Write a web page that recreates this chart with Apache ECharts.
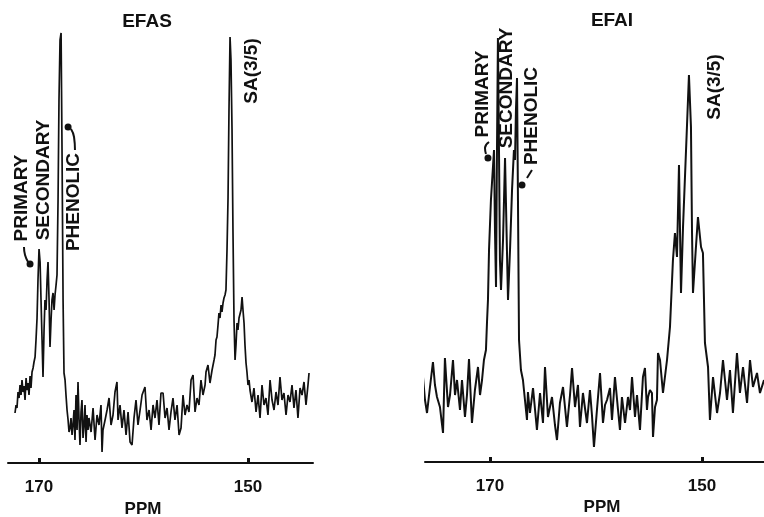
<!DOCTYPE html>
<html>
<head>
<meta charset="utf-8">
<script src="https://cdn.jsdelivr.net/npm/echarts@6/dist/echarts.min.js"></script>
<style>
html,body{margin:0;padding:0;background:#fff;}
#chart{width:764px;height:517px;}
</style>
</head>
<body>
<div id="chart"></div>
<script>
// ---- EFAS spectrum (chemical shift in ppm, intensity in arbitrary units) ----
const efasShift = [
172.30,172.20,172.11,172.01,171.91,171.82,171.72,171.63,171.53,171.44,171.34,171.24,171.15,171.05,170.96,170.86,170.77,170.67,170.57,170.48,
170.38,170.29,170.19,170.10,170.00,169.90,169.81,169.71,169.62,169.52,169.43,169.33,169.23,169.14,169.04,168.95,168.85,168.76,168.66,168.56,
168.47,168.37,168.28,168.18,168.09,167.99,167.89,167.80,167.70,167.61,167.51,167.42,167.32,167.22,167.13,167.03,
166.94,166.84,166.75,166.65,166.56,166.46,166.36,166.27,166.17,166.08,165.98,165.89,165.79,165.69,165.60,165.50,165.41,165.31,165.22,
165.02,164.83,164.64,164.45,164.26,164.07,163.97,163.88,163.68,163.49,163.30,163.11,162.92,162.73,162.54,162.44,162.25,162.06,161.87,161.67,
161.48,161.29,161.10,160.91,160.72,160.53,160.33,160.14,159.86,159.67,159.47,159.28,159.09,158.90,158.71,158.52,158.33,158.13,157.94,157.75,
157.56,157.37,157.18,156.99,156.79,156.60,156.41,156.22,156.03,155.84,155.65,155.45,155.26,155.07,154.88,154.69,154.50,154.31,154.11,154.02,
153.83,153.64,153.44,153.25,153.16,153.06,152.97,152.87,152.78,152.68,152.58,152.49,152.39,152.30,152.20,152.11,152.01,151.91,151.82,151.72,
151.63,151.53,151.44,151.34,151.24,151.15,151.05,150.96,150.86,150.77,150.67,150.57,150.48,150.38,150.29,150.19,150.10,150.00,149.90,149.81,
149.62,149.43,149.23,149.04,148.85,148.66,148.47,148.28,148.09,147.89,147.70,147.51,147.32,147.13,146.94,146.75,146.56,146.36,146.17,145.98,
145.79,145.60,145.41,145.22,145.02,144.83,144.64,144.45,144.26,144.16
];
const efasIntensity = [
50,58,55,71,65,78,68,83,71,77,63,85,73,80,68,87,75,91,95,101,
106,123,145,183,214,201,163,123,86,133,163,153,183,201,163,116,143,163,170,153,
168,178,188,263,363,423,430,313,163,90,83,68,53,43,31,35,
45,28,38,53,23,68,33,81,43,18,51,63,25,38,58,21,48,33,45,
31,55,23,48,38,58,11,33,43,53,65,38,48,71,81,43,58,35,53,28,
51,21,18,45,63,38,53,68,76,43,53,33,58,45,63,38,70,70,45,55,
33,51,65,43,58,28,35,68,48,58,51,83,88,51,65,58,83,68,78,91,
98,80,93,103,108,123,126,138,150,145,158,151,160,165,168,173,213,266,353,426,
403,333,233,143,103,118,140,133,145,143,153,166,153,140,118,100,91,78,83,73,
61,75,51,68,45,78,58,65,48,83,63,53,71,58,86,63,70,48,68,61,
78,55,73,45,75,68,81,58,78,90
];

// ---- EFAI spectrum ----
const efaiShift = [
176.79,176.60,176.32,176.13,175.94,175.66,175.38,175.19,175.00,174.72,174.43,174.25,173.96,173.77,173.49,173.30,173.11,172.83,172.64,172.36,
172.17,171.98,171.70,171.42,171.13,170.94,170.75,170.57,170.38,170.28,170.19,170.09,169.91,169.62,169.53,169.43,169.34,169.25,169.15,169.06,
168.96,168.77,168.58,168.40,168.30,168.11,167.92,167.74,167.64,167.55,167.45,167.36,167.26,167.08,166.89,166.70,166.51,166.42,166.23,165.94,
165.57,165.28,165.00,164.81,164.53,164.15,163.87,163.68,163.40,163.11,162.74,162.45,162.26,161.98,161.70,161.51,161.23,160.85,160.57,160.38,
160.19,159.91,159.62,159.34,159.15,158.96,158.68,158.49,158.21,157.92,157.74,157.55,157.26,156.98,156.79,156.60,156.32,156.13,155.85,155.57,
155.38,155.19,155.09,154.91,154.72,154.62,154.43,154.25,154.15,153.96,153.68,153.30,153.02,152.74,152.55,152.36,152.17,151.98,151.79,151.42,
151.23,151.04,150.94,150.85,150.57,150.38,150.09,149.91,149.72,149.43,149.25,148.96,148.58,148.30,148.02,147.64,147.36,147.08,146.70,146.42,
146.13,145.75,145.47,145.19,144.81,144.53,144.15
];
const efaiIntensity = [
32,35,85,62,49,75,100,77,65,55,29,104,55,67,102,67,82,52,82,45,
67,103,39,72,95,67,82,102,112,140,162,212,262,312,232,175,312,424,312,202,
172,222,304,212,162,212,272,312,302,352,384,262,122,92,82,62,42,70,49,74,
32,69,39,95,45,65,37,22,59,75,35,67,94,55,77,35,69,39,72,47,
15,52,89,39,57,62,74,42,85,52,32,65,39,65,52,85,45,67,32,85,
94,52,65,72,69,25,55,62,109,102,69,102,135,202,229,205,297,169,235,335,
387,335,229,169,215,245,215,209,119,95,42,85,49,69,102,62,92,49,109,69,
95,59,102,75,89,69,82
];

// ---- axis ticks and annotations ----
const tickValues = [170, 150];
const efasLabels = ['PRIMARY', 'SECONDARY', 'PHENOLIC', 'SA(3/5)'];
const efasLabelPos = [[171.67, 265], [169.52, 283], [166.65, 261], [149.67, 392]];
const efaiLabels = ['PRIMARY', 'SECONDARY', 'PHENOLIC', 'SA(3/5)'];
const efaiLabelPos = [[170.66, 368], [168.40, 374], [166.04, 346], [148.77, 375]];
const efasPrimaryLeader = [[171.44, 216], [171.34, 208], [171.05, 201]];
const efasPhenolicLeader = [[166.56, 313], [166.65, 326], [166.94, 334]];
const efasLeaderDots = [[170.86, 199], [167.22, 336]];
const efaiPrimaryLeader = [[170.09, 320], [170.47, 314], [170.38, 308]];
const efaiPhenolicLeader = [[166.04, 292], [166.51, 284]];
const efaiLeaderDots = [[170.19, 304], [166.98, 277]];

const ink = '#111';
const FONT = '"Liberation Sans", Arial, Helvetica, sans-serif';
const pairs = (xs, ys) => xs.map((x, i) => [x, ys[i]]);
const labelData = (names, pos) => names.map((n, i) => ({ name: n, value: pos[i] }));

function xAxisFor(idx, min, max) {
  return {
    gridIndex: idx, type: 'value', inverse: true, min: min, max: max,
    axisLine: { show: true, lineStyle: { color: ink, width: 2 } },
    axisTick: { show: true, inside: true, length: 5, customValues: tickValues, lineStyle: { color: ink, width: 3 } },
    axisLabel: { show: true, customValues: tickValues, color: ink, fontSize: 17, fontWeight: 'bold', fontFamily: FONT, margin: 16 },
    splitLine: { show: false }
  };
}
function yAxisFor(idx) {
  return { gridIndex: idx, type: 'value', min: 0, max: 430, show: false, splitLine: { show: false } };
}
function labelSeries(idx, names, pos) {
  return {
    type: 'scatter', xAxisIndex: idx, yAxisIndex: idx, symbolSize: 1,
    itemStyle: { color: 'rgba(0,0,0,0)', opacity: 1 }, silent: true,
    label: { show: true, formatter: '{b}', position: 'inside', rotate: 90, color: ink, opacity: 1,
      fontSize: 19, fontWeight: 'bold', fontFamily: FONT },
    data: labelData(names, pos), z: 5
  };
}
function leaderSeries(idx, d) {
  return { type: 'line', xAxisIndex: idx, yAxisIndex: idx, data: d, smooth: true, symbol: 'none',
    lineStyle: { color: ink, width: 2 }, silent: true, z: 4 };
}
function dotSeries(idx, d) {
  return { type: 'scatter', xAxisIndex: idx, yAxisIndex: idx, data: d, symbol: 'circle', symbolSize: 7,
    itemStyle: { color: ink, opacity: 1 }, silent: true, z: 4 };
}

const chart = echarts.init(document.getElementById('chart'), null, { renderer: 'canvas' });
chart.setOption({
  animation: false,
  backgroundColor: '#fff',
  grid: [
    { left: 8, right: 451, top: 33, bottom: 54 },
    { left: 425, right: 0, top: 32, bottom: 55 }
  ],
  xAxis: [xAxisFor(0, 143.78, 172.97), xAxisFor(1, 144.15, 176.13)],
  yAxis: [yAxisFor(0), yAxisFor(1)],
  graphic: [
    { type: 'text', x: 147, y: 22, style: { text: 'EFAS', font: 'bold 19px ' + FONT, fill: ink, textAlign: 'center', textVerticalAlign: 'middle' } },
    { type: 'text', x: 612, y: 21, style: { text: 'EFAI', font: 'bold 19px ' + FONT, fill: ink, textAlign: 'center', textVerticalAlign: 'middle' } },
    { type: 'text', x: 143, y: 509, style: { text: 'PPM', font: 'bold 17px ' + FONT, fill: ink, textAlign: 'center', textVerticalAlign: 'middle' } },
    { type: 'text', x: 602, y: 507, style: { text: 'PPM', font: 'bold 17px ' + FONT, fill: ink, textAlign: 'center', textVerticalAlign: 'middle' } }
  ],
  series: [
    { type: 'line', xAxisIndex: 0, yAxisIndex: 0, data: pairs(efasShift, efasIntensity), symbol: 'none',
      lineStyle: { color: ink, width: 1.7 }, silent: true, clip: false },
    { type: 'line', xAxisIndex: 1, yAxisIndex: 1, data: pairs(efaiShift, efaiIntensity), symbol: 'none',
      lineStyle: { color: ink, width: 2 }, silent: true, clip: false },
    labelSeries(0, efasLabels, efasLabelPos),
    labelSeries(1, efaiLabels, efaiLabelPos),
    leaderSeries(0, efasPrimaryLeader),
    leaderSeries(0, efasPhenolicLeader),
    dotSeries(0, efasLeaderDots),
    leaderSeries(1, efaiPrimaryLeader),
    leaderSeries(1, efaiPhenolicLeader),
    dotSeries(1, efaiLeaderDots)
  ]
});
</script>
</body>
</html>
